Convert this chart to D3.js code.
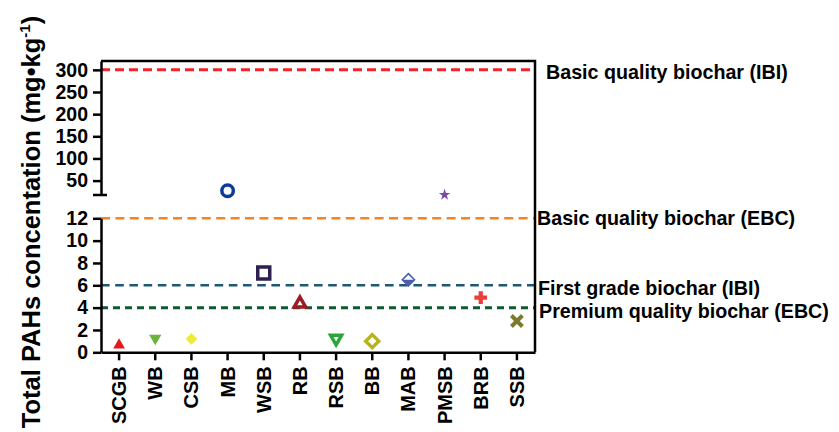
<!DOCTYPE html>
<html>
<head>
<meta charset="utf-8">
<script src="https://cdn.jsdelivr.net/npm/d3@7"></script>
<style>
  body { margin: 0; background: #fff; }
  svg { display: block; background: #fff; }
  text { font-family: "Liberation Sans", Arial, Helvetica, sans-serif; font-weight: bold; fill: #000; }
</style>
</head>
<body>
<svg id="chart" width="839" height="432"></svg>
<script>
// Total PAH content of each biochar (mg/kg)
const categories = ["SCGB", "WB", "CSB", "MB", "WSB", "RB", "RSB", "BB", "MAB", "PMSB", "BRB", "SSB"];
const pahValues = [0.8, 1.1, 1.2, 27, 7.1, 4.5, 1.1, 1.0, 6.5, 18, 4.9, 2.8];

// Broken y axis: ticks of the upper and lower segments
const upperTicks = [50, 100, 150, 200, 250, 300];
const lowerTicks = [0, 2, 4, 6, 8, 10, 12];

// Quality thresholds for biochar
const thresholdValues = [300, 12, 6, 4];
const thresholdLabels = [
  "Basic quality biochar (IBI)",
  "Basic quality biochar (EBC)",
  "First grade biochar (IBI)",
  "Premium quality biochar (EBC)"
];

const breakAt = 12;

const svg = d3.select("#chart");

const plotLeft = 101, plotRight = 535;
const x = d3.scaleBand().domain(categories).range([plotLeft, plotRight]);
const cx = c => x(c) + x.bandwidth() / 2;

const yHi = d3.scaleLinear().domain([17.5, 320]).range([195, 61]);
const yLo = d3.scaleLinear().domain([0, 12]).range([352.3, 218.3]);
const yOf = v => (v > breakAt ? yHi(v) : yLo(v));

// threshold lines
const lineStyle = [
  { color: "#f2242a", width: 3, dash: "9,5" },
  { color: "#f7841f", width: 2.5, dash: "9,5.4" },
  { color: "#1d5874", width: 2.5, dash: "8.6,5.6" },
  { color: "#0f5a31", width: 3, dash: "7,5" }
];
const labelPos = [
  { x: 546, dy: 2 },
  { x: 537, dy: 0 },
  { x: 538, dy: 3 },
  { x: 539, dy: 3 }
];

const gLines = svg.append("g");
thresholdValues.forEach((v, i) => {
  const y = yOf(v);
  gLines.append("line")
    .attr("x1", plotLeft).attr("x2", plotRight)
    .attr("y1", y).attr("y2", y)
    .attr("stroke", lineStyle[i].color)
    .attr("stroke-width", lineStyle[i].width)
    .attr("stroke-dasharray", lineStyle[i].dash);
  svg.append("text")
    .attr("x", labelPos[i].x)
    .attr("y", y + labelPos[i].dy)
    .attr("dy", "0.35em")
    .style("font-size", "19.7px")
    .text(thresholdLabels[i]);
});

// axes
const axisStroke = 2.5;
function styleAxis(g) {
  g.attr("font-family", null).attr("font-size", null);
  g.selectAll("path, line").attr("stroke", "#000").attr("stroke-width", axisStroke);
  g.selectAll("text").style("font-size", "19.5px").attr("fill", "#000");
}

svg.append("g")
  .attr("transform", `translate(${plotLeft},0)`)
  .call(d3.axisLeft(yHi).tickValues(upperTicks).tickSize(8).tickSizeOuter(0).tickPadding(5))
  .call(styleAxis);

svg.append("g")
  .attr("transform", `translate(${plotLeft},0)`)
  .call(d3.axisLeft(yLo).tickValues(lowerTicks).tickSize(8).tickSizeOuter(0).tickPadding(5))
  .call(styleAxis);

// break mark at the foot of the upper segment
svg.append("line")
  .attr("x1", plotLeft - 8).attr("x2", plotLeft + 6)
  .attr("y1", yHi.range()[0]).attr("y2", yHi.range()[0])
  .attr("stroke", "#000").attr("stroke-width", axisStroke);

// top and right frame
svg.append("path")
  .attr("d", `M${plotLeft},${yHi.range()[1]}H${plotRight}V${yLo.range()[0]}`)
  .attr("fill", "none").attr("stroke", "#000").attr("stroke-width", axisStroke);

// x axis
const xAxis = svg.append("g")
  .attr("transform", `translate(0,${yLo.range()[0]})`)
  .call(d3.axisBottom(x).tickSize(8).tickSizeOuter(0))
  .call(g => g.attr("font-family", null).attr("font-size", null));
xAxis.selectAll("path, line").attr("stroke", "#000").attr("stroke-width", axisStroke);
xAxis.selectAll("text")
  .attr("transform", "rotate(-90)")
  .attr("x", -14).attr("y", 0).attr("dy", "0.35em")
  .style("text-anchor", "end")
  .style("font-size", "20px")
  .attr("fill", "#000");

// y title
svg.append("text")
  .attr("transform", "translate(40,222) rotate(-90)")
  .style("text-anchor", "middle")
  .style("font-size", "25.5px")
  .call(t => {
    t.append("tspan").text("Total PAHs concentation (mg•kg");
    t.append("tspan").attr("dy", -10).style("font-size", "15px").text("-1");
    t.append("tspan").attr("dy", 10).text(")");
  });

// markers
const markerStyle = {
  SCGB: { shape: "triUp", s: 11.7, color: "#e8161d", fill: true },
  WB:   { shape: "triDown", s: 12.3, color: "#6cb33e", fill: true },
  CSB:  { shape: "diamond", s: 11.7, color: "#f1e936", fill: true },
  MB:   { shape: "circle", s: 11.5, color: "#0c3c98", sw: 3.5 },
  WSB:  { shape: "square", s: 12, color: "#2e2150", sw: 3.5 },
  RB:   { shape: "triUp", s: 11.5, color: "#9c1c23", sw: 3.5 },
  RSB:  { shape: "triDown", s: 11, color: "#2ba53b", sw: 3.5 },
  BB:   { shape: "diamond", s: 13, color: "#b6b31b", sw: 3.5 },
  MAB:  { shape: "halfDiamond", s: 12.2, color: "#4b5db1", sw: 1.6 },
  PMSB: { shape: "star", s: 11.5, color: "#7c46a7", fill: true },
  BRB:  { shape: "plus", s: 12.7, color: "#ee3d3d", fill: true },
  SSB:  { shape: "x", s: 11, color: "#7c7a2d", sw: 4 }
};

function shapePath(shape, s) {
  const h = s * Math.sqrt(3) / 2, d = s / 2;
  switch (shape) {
    case "triUp": return `M0,${-h / 2}L${d},${h / 2}L${-d},${h / 2}Z`;
    case "triDown": return `M0,${h / 2}L${d},${-h / 2}L${-d},${-h / 2}Z`;
    case "diamond": return `M0,${-d}L${d},0L0,${d}L${-d},0Z`;
    case "square": return `M${-d},${-d}H${d}V${d}H${-d}Z`;
    case "circle": return d3.symbol(d3.symbolCircle, Math.PI * d * d)();
    case "star": {
      const r = s / 1.902;
      return d3.symbol(d3.symbolStar, (r * r) / 0.8908130915292852)();
    }
    case "plus": {
      const r = s / 6;
      return d3.symbol(d3.symbolCross, 5 * 4 * r * r)();
    }
    case "x": return `M${-d},${-d}L${d},${d}M${d},${-d}L${-d},${d}`;
  }
}

const gPts = svg.append("g");
categories.forEach((c, i) => {
  const st = markerStyle[c];
  const g = gPts.append("g").attr("transform", `translate(${cx(c)},${yOf(pahValues[i])})`);
  if (st.shape === "halfDiamond") {
    const d = st.s / 2;
    g.append("path").attr("d", `M${-d},0L${d},0L0,${d}Z`).attr("fill", st.color);
    g.append("path").attr("d", shapePath("diamond", st.s))
      .attr("fill", "none").attr("stroke", st.color).attr("stroke-width", st.sw);
    return;
  }
  const p = g.append("path").attr("d", shapePath(st.shape, st.s));
  if (st.fill) {
    p.attr("fill", st.color);
  } else {
    p.attr("fill", st.shape === "x" ? "none" : "#fff")
      .attr("stroke", st.color).attr("stroke-width", st.sw);
  }
});
</script>
</body>
</html>
